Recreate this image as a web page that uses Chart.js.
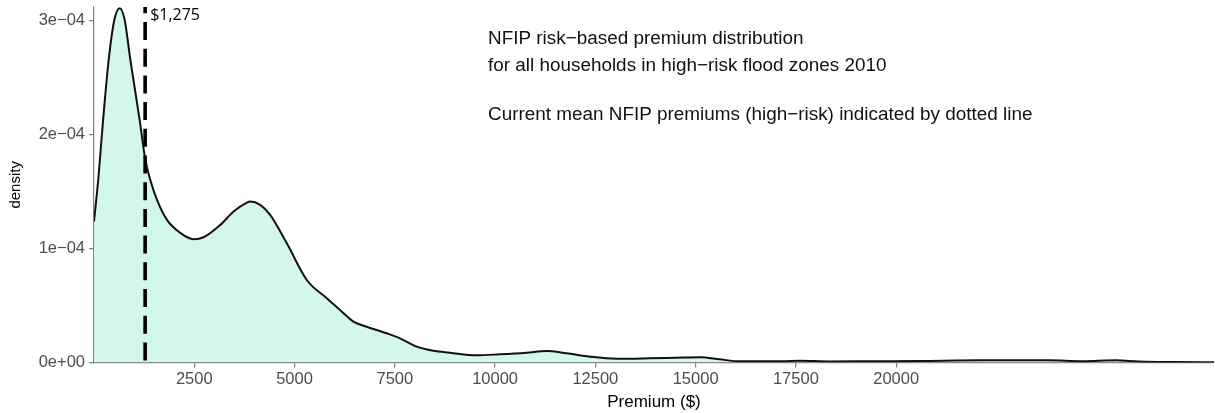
<!DOCTYPE html>
<html>
<head>
<meta charset="utf-8">
<title>NFIP risk-based premium distribution</title>
<script src="https://cdn.jsdelivr.net/npm/chart.js@4.4.1/dist/chart.umd.min.js"></script>
<style>
  html, body { margin: 0; padding: 0; background: #ffffff; }
  #wrap { position: relative; width: 1215px; height: 413px; }
</style>
</head>
<body>
<div id="wrap"><canvas id="chart" width="1215" height="413"></canvas></div>
<script>
// Kernel density of risk-based premiums ($) in high-risk flood zones, 2010
const premium = [
  0, 110, 227, 366, 508, 640, 764, 906, 1138, 1280, 1404, 1571, 1820, 2151,
  2483, 2731, 3147, 3479, 3812, 3894, 4143, 4392, 4808, 5306, 5804, 6135, 6467,
  6800, 7298, 7629, 8045, 8458, 8874, 9539, 10119, 10784, 11282, 11780,
  12360, 13025, 13854, 14519, 15119, 15597, 16095, 17166, 17590, 18337,
  19333, 20578, 22072, 23815, 24637, 25483, 26056, 27052, 27925
];
const density = [
  1.237e-4, 1.62e-4, 2.13e-4, 2.657e-4, 3.008e-4, 3.11e-4, 3.008e-4, 2.657e-4,
  2.13e-4, 1.78e-4, 1.603e-4, 1.428e-4, 1.252e-4, 1.138e-4, 1.083e-4, 1.10e-4,
  1.208e-4, 1.325e-4, 1.404e-4, 1.413e-4, 1.384e-4, 1.296e-4, 1.047e-4, 0.725e-4,
  0.565e-4, 0.462e-4, 0.359e-4, 0.315e-4, 0.257e-4, 0.213e-4, 0.140e-4,
  0.104e-4, 0.087e-4, 0.064e-4, 0.073e-4, 0.087e-4, 0.102e-4, 0.082e-4,
  0.052e-4, 0.034e-4, 0.038e-4, 0.043e-4, 0.047e-4, 0.029e-4, 0.011e-4,
  0.011e-4, 0.017e-4, 0.010e-4, 0.012e-4, 0.014e-4, 0.020e-4, 0.020e-4,
  0.012e-4, 0.020e-4, 0.010e-4, 0.005e-4, 0.002e-4
];

// Current mean NFIP premium (high-risk)
const meanPremium = 1275;
const meanLabel = '$1,275';

const xTicks = [2500, 5000, 7500, 10000, 12500, 15000, 17500, 20000];
const yTicks = [0, 1e-4, 2e-4, 3e-4];
const yTickLabels = ['0e+00', '1e\u221204', '2e\u221204', '3e\u221204'];

const xMin = 0, xMax = 27925;
const yMin = 0, yMax = 3.12e-4;

const noteLines = [
  'NFIP risk\u2212based premium distribution',
  'for all households in high\u2212risk flood zones 2010',
  'Current mean NFIP premiums (high\u2212risk) indicated by dotted line'
];

const curvePoints = premium.map((p, i) => ({ x: p, y: density[i] }));
const meanPoints = [{ x: meanPremium, y: yMax }, { x: meanPremium, y: yMin }];

const AXIS_GREY = '#7f7f7f';
const TICK_TEXT = '#4d4d4d';

const annotations = {
  id: 'annotations',
  afterDatasetsDraw(chart) {
    const { ctx, scales } = chart;
    const xs = scales.x;
    ctx.save();
    // label next to the mean line
    ctx.font = '16px "Open Sans", "DejaVu Sans", sans-serif';
    ctx.fillStyle = '#000000';
    ctx.textAlign = 'left';
    ctx.textBaseline = 'middle';
    ctx.fillText(meanLabel, xs.getPixelForValue(meanPremium) + 5, 15);

    // explanatory note
    ctx.font = '18.9px "Liberation Sans", Arial, sans-serif';
    ctx.fillStyle = '#111111';
    const left = 488;
    const rows = [39, 66, 115];
    noteLines.forEach((t, i) => ctx.fillText(t, left, rows[i]));
    ctx.restore();
  }
};

new Chart(document.getElementById('chart'), {
  type: 'line',
  data: {
    datasets: [
      {
        label: 'mean premium',
        data: meanPoints,
        borderColor: '#000000',
        borderWidth: 3.6,
        borderDash: [18, 8.7],
        borderDashOffset: 11.7,
        borderCapStyle: 'butt',
        pointRadius: 0,
        fill: false,
        tension: 0
      },
      {
        label: 'density',
        data: curvePoints,
        borderColor: '#111111',
        borderWidth: 2,
        backgroundColor: '#d4f7eb',
        fill: 'origin',
        pointRadius: 0,
        cubicInterpolationMode: 'monotone'
      }
    ]
  },
  options: {
    responsive: false,
    animation: false,
    devicePixelRatio: 1,
    layout: { padding: { top: 7, right: 1, left: 0, bottom: 0 } },
    plugins: {
      legend: { display: false },
      tooltip: { enabled: false }
    },
    scales: {
      x: {
        type: 'linear',
        min: xMin,
        max: xMax,
        afterBuildTicks(scale) {
          scale.ticks = xTicks.map(v => ({ value: v }));
        },
        afterFit(scale) {
          scale.height = 50.4;
          scale.paddingLeft = 0;
          scale.paddingRight = 0;
        },
        border: { display: true, color: AXIS_GREY, width: 1.2 },
        grid: {
          display: true,
          drawOnChartArea: false,
          drawTicks: true,
          tickLength: 5,
          color: AXIS_GREY,
          lineWidth: 1.2
        },
        ticks: {
          autoSkip: false,
          maxRotation: 0,
          padding: 2,
          color: TICK_TEXT,
          font: { family: '"Liberation Sans", Arial, sans-serif', size: 16.5 },
          callback: v => String(v)
        },
        title: {
          display: true,
          text: 'Premium ($)',
          color: '#000000',
          font: { family: '"Liberation Sans", Arial, sans-serif', size: 17 },
          padding: { top: 1, bottom: 0 }
        }
      },
      y: {
        type: 'linear',
        min: yMin,
        max: yMax,
        afterBuildTicks(scale) {
          scale.ticks = yTicks.map(v => ({ value: v }));
        },
        afterFit(scale) {
          scale.width = 94;
          scale.paddingTop = 0;
          scale.paddingBottom = 0;
        },
        border: { display: true, color: AXIS_GREY, width: 1.2 },
        grid: {
          display: true,
          drawOnChartArea: false,
          drawTicks: true,
          tickLength: 5,
          color: AXIS_GREY,
          lineWidth: 1.2
        },
        ticks: {
          padding: 4,
          color: TICK_TEXT,
          font: { family: '"Liberation Sans", Arial, sans-serif', size: 16.5 },
          callback: (v, i) => yTickLabels[i]
        },
        title: {
          display: true,
          text: 'density',
          color: '#000000',
          font: { family: '"Liberation Sans", Arial, sans-serif', size: 15 },
          padding: { top: 7, bottom: 0 }
        }
      }
    }
  },
  plugins: [annotations]
});
</script>
</body>
</html>
